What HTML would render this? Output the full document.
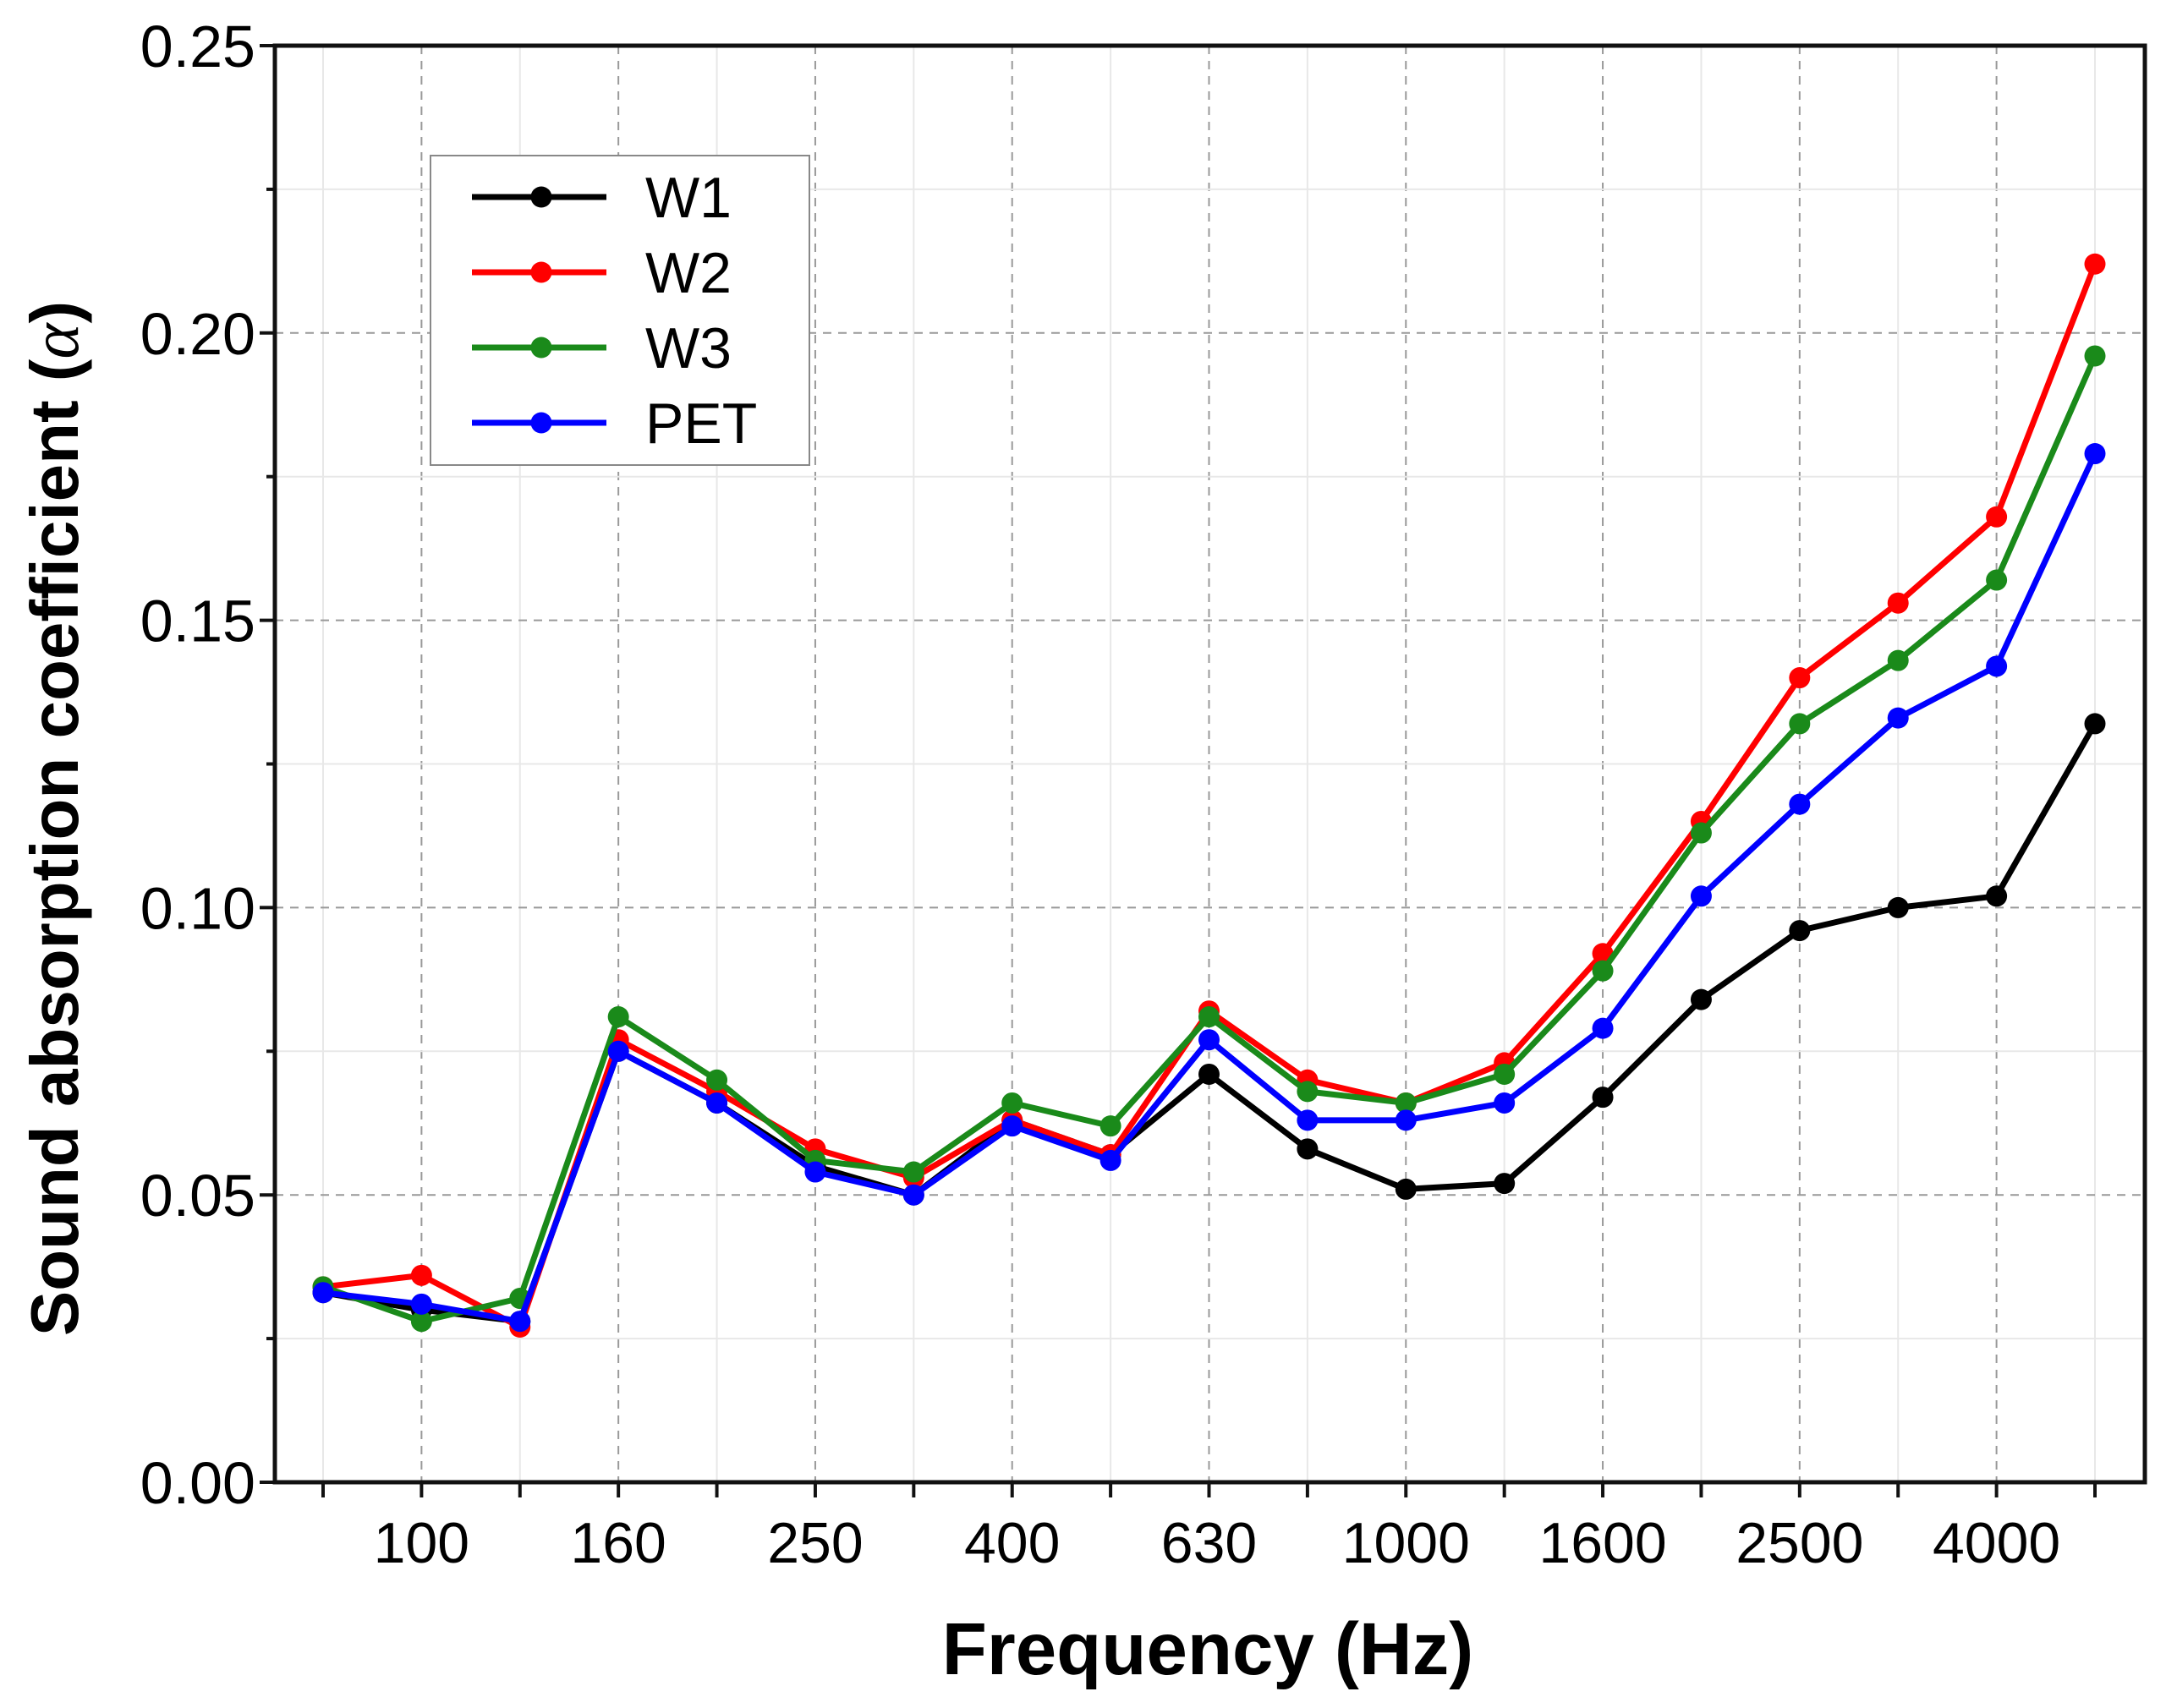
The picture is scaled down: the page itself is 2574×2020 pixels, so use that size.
<!DOCTYPE html>
<html><head><meta charset="utf-8"><style>
body{margin:0;background:#fff;}
svg{display:block;font-family:"Liberation Sans",sans-serif;}
</style></head><body>
<svg id="chart" width="2574" height="2020" viewBox="0 0 2574 2020" xmlns="http://www.w3.org/2000/svg">
<g id="grid"></g>
<g id="series"></g>
<g id="axes"></g>
<g id="legend"></g>
<text transform="translate(92,968) rotate(-90)" text-anchor="middle" font-size="80" font-weight="bold">Sound absorption coefficient (<tspan font-family="Liberation Serif" font-style="italic" font-weight="normal">α</tspan>)</text>
<text x="1428" y="1980" text-anchor="middle" font-size="87" font-weight="bold">Frequency (Hz)</text>
</svg>
<script>
const categories=["80","100","125","160","200","250","315","400","500","630","800","1000","1250","1600","2000","2500","3150","4000","5000"];
const w1=[0.033,0.030,0.028,0.075,0.066,0.055,0.050,0.063,0.057,0.071,0.058,0.051,0.052,0.067,0.084,0.096,0.100,0.102,0.132];
const w2=[0.034,0.036,0.027,0.077,0.068,0.058,0.053,0.063,0.057,0.082,0.070,0.066,0.073,0.092,0.115,0.140,0.153,0.168,0.212];
const w3=[0.034,0.028,0.032,0.081,0.070,0.056,0.054,0.066,0.062,0.081,0.068,0.066,0.071,0.089,0.113,0.132,0.143,0.157,0.196];
const pet=[0.033,0.031,0.028,0.075,0.066,0.054,0.050,0.062,0.056,0.077,0.063,0.063,0.066,0.079,0.102,0.118,0.133,0.142,0.179];
const yTicks=["0.00","0.05","0.10","0.15","0.20","0.25"];
const seriesNames=["W1","W2","W3","PET"];
const seriesColors=["#000000","#ff0000","#1a8a1a","#0000ff"];

const NS="http://www.w3.org/2000/svg";
const L=325,R=2536,T=54,B=1753,X0=382,X1=2477;
function xs(i){return X0+(X1-X0)*i/(categories.length-1);}
function ys(v){return B-(B-T)*v/0.25;}
function mk(tag,attrs,parent){const e=document.createElementNS(NS,tag);for(const k in attrs)e.setAttribute(k,attrs[k]);parent.appendChild(e);return e;}
const grid=document.getElementById('grid'),axes=document.getElementById('axes'),sg=document.getElementById('series'),lg=document.getElementById('legend');

for(let i=0;i<categories.length;i++){
  const g=mk('line',{x1:xs(i),x2:xs(i),y1:T,y2:B,stroke:i%2?"#999":"#e8e8e8","stroke-width":2,"stroke-dasharray":i%2?"10,8":"none"},grid);
  
  
}
for(let k=1;k<10;k++){
  const v=k*0.025;const major=k%2===0;
  const g=mk('line',{x1:L,x2:R,y1:ys(v),y2:ys(v),stroke:major?"#999":"#e8e8e8","stroke-width":2,"stroke-dasharray":major?"10,8":"none"},grid);
  
  
}
const fr=mk('rect',{x:L,y:T,width:R-L,height:B-T,fill:"none",stroke:"#111","stroke-width":5},axes);


for(let k=0;k<=10;k++){
  const v=k*0.025;
  const t=mk('line',{x1:L,x2:L-(k%2?10:18),y1:ys(v),y2:ys(v),stroke:"#111","stroke-width":4},axes);
  
  
}
yTicks.forEach((s,k)=>{
  const t=mk('text',{x:302,y:ys(parseFloat(s))+25,"text-anchor":"end","font-size":70},axes);
  t.textContent=s;
  
  
});
categories.forEach((c,i)=>{
  const t=mk('line',{x1:xs(i),x2:xs(i),y1:B,y2:B+18,stroke:"#111","stroke-width":4},axes);
  
  
  if(i%2===1){
    const l=mk('text',{x:xs(i),y:1848,"text-anchor":"middle","font-size":68},axes);
    l.textContent=c;
    
    
  }
});
[w1,w2,w3,pet].forEach((data,s)=>{
  const g=mk('g',{},sg);
  
  
  const p=mk('polyline',{points:data.map((v,i)=>xs(i)+","+ys(v)).join(" "),fill:"none",stroke:seriesColors[s],"stroke-width":7,"stroke-linejoin":"round"},g);
  
  
  data.forEach((v,i)=>{
    const c=mk('circle',{cx:xs(i),cy:ys(v),r:12.5,fill:seriesColors[s]},g);
    
    
  });
});
const lb=mk('rect',{x:509,y:184,width:448,height:366,fill:"#fff",stroke:"#888","stroke-width":2},lg);


seriesNames.forEach((n,s)=>{
  const y=233+s*89;
  const g=mk('g',{},lg);
  
  
  mk('line',{x1:558,x2:717,y1:y,y2:y,stroke:seriesColors[s],"stroke-width":7},g);
  mk('circle',{cx:640,cy:y,r:12.5,fill:seriesColors[s]},g);
  const t=mk('text',{x:763,y:y+24,"font-size":68},g);
  t.textContent=n;
});
</script>
</body></html>
